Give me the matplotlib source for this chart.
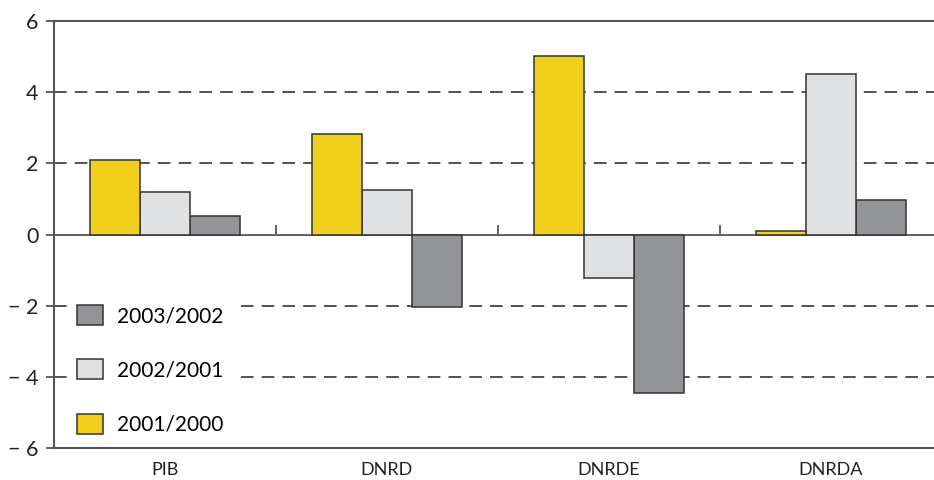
import numpy as np
import matplotlib.pyplot as plt

plt.rcParams['font.family'] = ['Lato', 'DejaVu Sans']

categories = ['PIB', 'DNRD', 'DNRDE', 'DNRDA']
s_2001_2000 = [2.1, 2.83, 5.03, 0.11]
s_2002_2001 = [1.2, 1.26, -1.23, 4.52]
s_2003_2002 = [0.52, -2.03, -4.46, 0.96]

yticks = [-6, -4, -2, 0, 2, 4, 6]
ytick_labels = ['\u2212 6', '\u2212 4', '\u2212 2', '0', '2', '4', '6']

fig = plt.figure(figsize=(9.34, 4.8), dpi=100)
W, H = 934, 480
ax = fig.add_axes([54 / W, 32 / H, 888 / W, 427 / H])

x = np.arange(len(categories))
w = 0.225
edge = '#333333'
b3 = ax.bar(x + w, s_2003_2002, w, color='#939498', edgecolor=edge, lw=1.1, zorder=3, label='2003/2002')
b2 = ax.bar(x, s_2002_2001, w, color='#e0e1e3', edgecolor=edge, lw=1.1, zorder=3, label='2002/2001')
b1 = ax.bar(x - w, s_2001_2000, w, color='#f2cf1d', edgecolor=edge, lw=1.1, zorder=3, label='2001/2000')

# dashed grid, solid zero line
for yv in [-4, -2, 2, 4]:
    ax.axhline(yv, color='#444444', lw=1.3, ls=(0, (7, 4.5)), zorder=1)
ax.axhline(0, color='#555555', lw=1.3, zorder=2)
ax.vlines(x[1:] - 0.5, 0, 0.28, color='#555555', lw=1.3, zorder=2)

ax.set_xlim(-0.5, len(categories) - 0.5)
ax.set_ylim(-6, 6)
ax.set_yticks(yticks)
ax.set_yticklabels(ytick_labels, fontsize=15.5, color='#222222')
ax.set_xticks(x)
ax.set_xticklabels(categories, fontsize=13, color='#222222')
ax.tick_params(axis='x', length=0, pad=10)
ax.tick_params(axis='y', length=6, width=1.3, color='#555555', pad=5)

for side in ['left', 'top', 'bottom']:
    ax.spines[side].set_color('#555555')
    ax.spines[side].set_linewidth(1.5)
ax.spines['right'].set_visible(False)

# legend on a white box that hides the grid behind it
leg = ax.legend(handles=[b3, b2, b1], loc='upper left',
                bbox_to_anchor=(67 / W, 1 - 295 / H), bbox_transform=fig.transFigure,
                frameon=True, fancybox=False, facecolor='white', edgecolor='none',
                framealpha=1, fontsize=15, handlelength=1.25, handleheight=1.1,
                handletextpad=0.65, labelspacing=1.6, borderpad=0.48, borderaxespad=0)
leg.set_zorder(4)

fig.savefig('out.png', dpi=100)
